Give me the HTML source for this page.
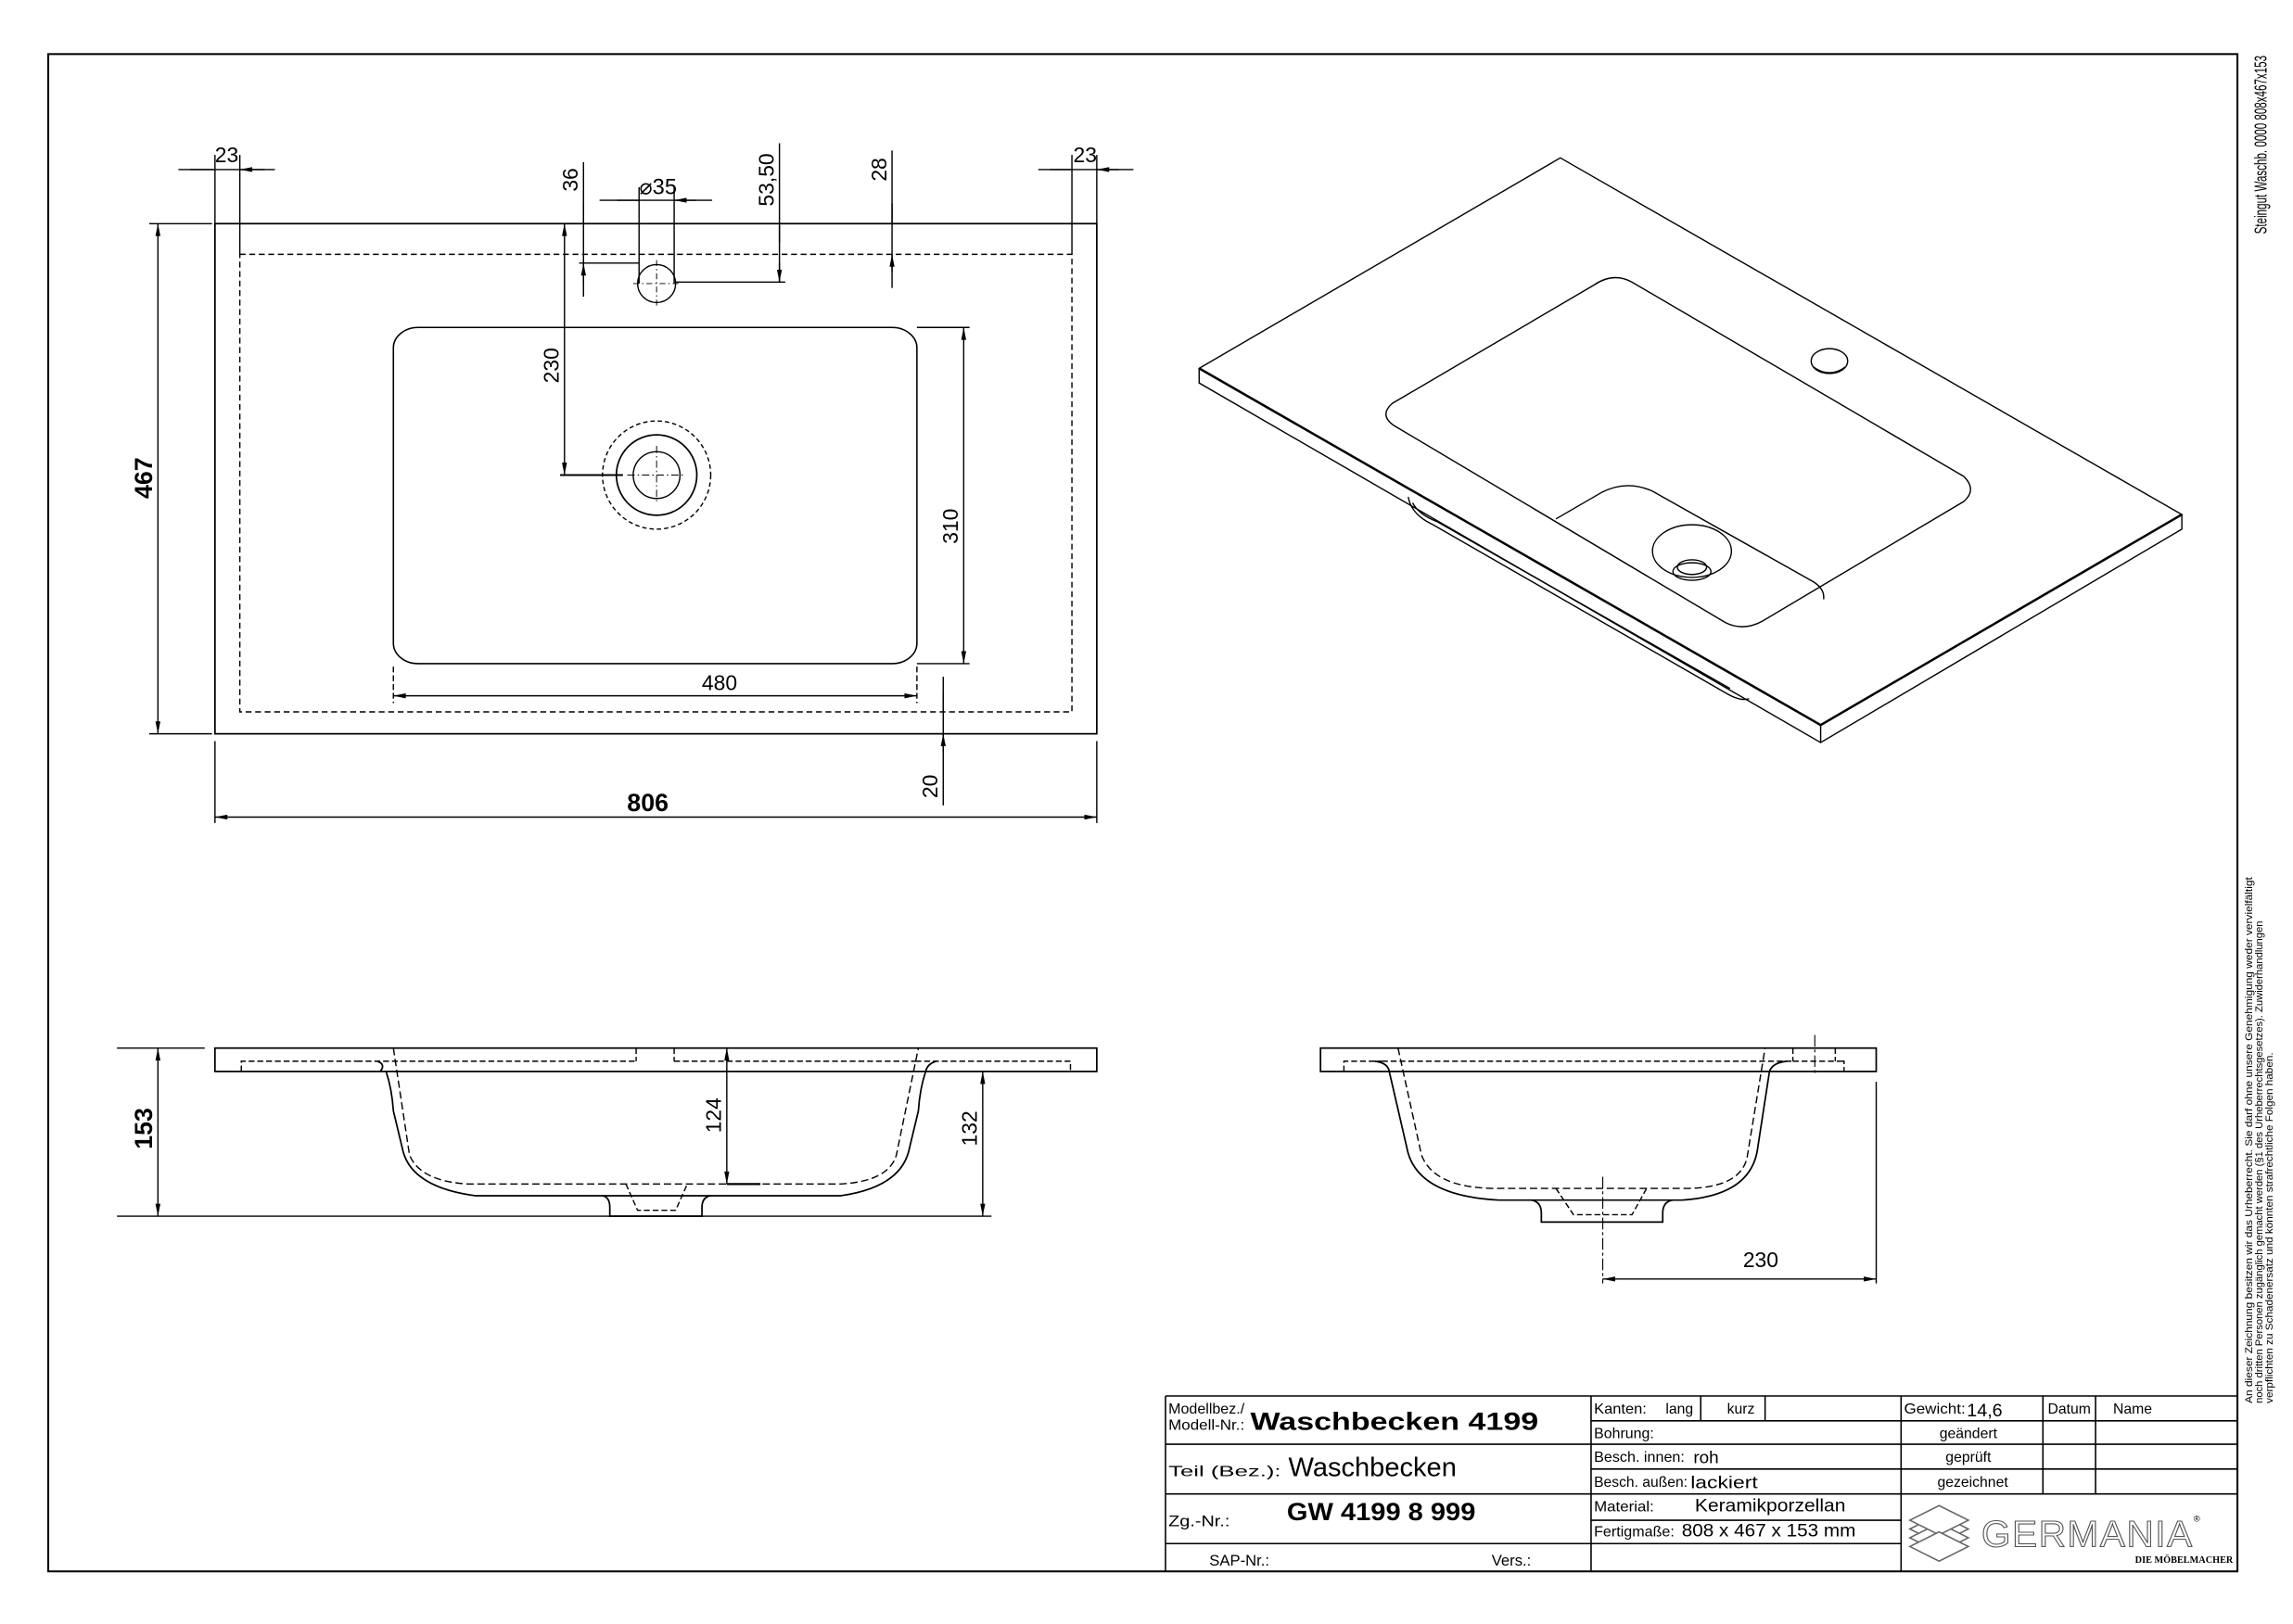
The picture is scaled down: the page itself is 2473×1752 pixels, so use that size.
<!DOCTYPE html>
<html><head><meta charset="utf-8"><style>
html,body{margin:0;padding:0;background:#fff;}
svg{display:block;}
text{font-family:"Liberation Sans",Arial,sans-serif;fill:#000;}
</style></head><body>
<svg width="2473" height="1752" viewBox="0 0 1568 1111" preserveAspectRatio="none" xmlns="http://www.w3.org/2000/svg">
<defs>
<marker id="a" viewBox="0 0 10 4" refX="10" refY="2" markerWidth="10" markerHeight="3.4" markerUnits="userSpaceOnUse" orient="auto-start-reverse"><path d="M0,0 L10,2 L0,4 z" fill="#000"/></marker>
</defs>
<rect x="0" y="0" width="1568" height="1111" fill="#fff"/>
<g fill="none" stroke="#000" stroke-width="0.9">
<rect x="33" y="37" width="1497" height="1038" stroke-width="1.3"/>

<!-- TOP VIEW -->
<rect x="147" y="153" width="603" height="349" stroke-width="1.1"/>
<rect x="164" y="174" width="569" height="313" stroke-dasharray="4,2.5"/>
<rect x="269" y="224" width="358" height="230" rx="17" ry="14" stroke-width="1"/>
<circle cx="449" cy="325" r="16"/>
<circle cx="449" cy="325" r="27.5" stroke-width="1.1"/>
<circle cx="449" cy="325" r="37" stroke-dasharray="3,2"/>
<path d="M449,305 V345 M429,325 H469" stroke-width="0.6" stroke-dasharray="5,2,1,2"/>
<circle cx="449" cy="194" r="13"/>
<path d="M449,178 V210 M433,194 H465" stroke-width="0.6" stroke-dasharray="4,2,1,2"/>

<path d="M147,106 V153 M164,106 V174 M122,116 H188"/>
<path d="M130,116 H147 M181,116 H164" marker-end="url(#a)"/>
<path d="M733,106 V174 M750,106 V153 M710,116 H775"/>
<path d="M718,116 H733 M765,116 H750" marker-end="url(#a)"/>
<path d="M437,128 V194 M461,128 V194 M410,137 H487"/>
<path d="M422,137 H437 M476,137 H461" marker-end="url(#a)"/>
<path d="M399,111 V203 M396,180 H437"/>
<path d="M399,139 V153 M399,194 V180" marker-end="url(#a)"/>
<path d="M533,98 V193 M462,193 H537"/>
<path d="M533,166 V153 M533,180 V193" marker-end="url(#a)"/>
<path d="M610,103 V197"/>
<path d="M610,139 V153 M610,186 V174" marker-end="url(#a)"/>
<path d="M102,153 H145 M102,502 H145"/>
<path d="M108,153 V502" marker-start="url(#a)" marker-end="url(#a)"/>
<path d="M383,325 H426" stroke-width="1.3"/>
<path d="M386,153 V325" marker-start="url(#a)" marker-end="url(#a)"/>
<path d="M627,224 H663 M627,454 H663"/>
<path d="M659,224 V454" marker-start="url(#a)" marker-end="url(#a)"/>
<path d="M269,456 V481 M627,456 V481" stroke-dasharray="4,2"/>
<path d="M269,476 H627" marker-start="url(#a)" marker-end="url(#a)"/>
<path d="M645,463 V551"/>
<path d="M645,474 V487 M645,515 V502" marker-end="url(#a)"/>
<path d="M147,507 V563 M750,507 V563"/>
<path d="M147,559 H750" marker-start="url(#a)" marker-end="url(#a)"/>

<!-- ISO VIEW -->
<path d="M1067,108 L1492,352 L1245,496 L820,252 Z"/>
<path d="M820,252 V262 L1245,508 L1492,362 V352 M1245,496 V508"/>
<path d="M820,252 L1245,496 L1492,352" stroke-width="1.6"/>
<path d="M963,340 Q965,352 980,359 L1180,474 Q1190,480 1196,478"/>
<path d="M966,344 Q970,352 983,357 L1183,471"/>
<path d="M1090,195 L952,276 Q943,284 953,291 L1180,426 Q1192,432 1205,425 L1343,343 Q1352,335 1343,326 L1116,193 Q1103,186 1090,195 Z"/>
<path d="M1064,355 L1095,337 Q1112,328 1130,336 L1240,398 Q1248,403 1247,410"/>
<ellipse cx="1157" cy="377" rx="27" ry="18"/>
<ellipse cx="1157" cy="391" rx="13" ry="6"/>
<ellipse cx="1157" cy="388" rx="10" ry="5"/>
<ellipse cx="1251" cy="247" rx="12.5" ry="8.5"/>
<path d="M1240,251 Q1251,259 1262,251"/>

<!-- SIDE VIEW 1 -->
<rect x="147" y="717" width="603" height="16" stroke-width="1.1"/>
<path d="M165,733 V726 H244 M626,726 H732 V733" stroke-dasharray="4,2"/>
<path d="M435,717 V726 M461,717 V726 M244,726 H435 M461,726 H626" stroke-dasharray="4,2"/>
<path d="M260,733 Q264,728 258,726 M264,733 Q268,745 269,760 L275,785 Q280,812 325,818 L575,818 Q617,812 622,785 L628,760 Q629,745 633,733 M640,726 Q634,728 633,733" stroke-width="1.1"/>
<path d="M269,717 L280,790 Q287,808 320,810 L575,810 Q608,808 613,790 L628,717" stroke-dasharray="5,2.5"/>
<path d="M412,818 Q417,819 417,826 V832 H480 V826 Q480,819 486,818" stroke-width="1.1"/>
<path d="M428,810 L436,828 H462 L470,810" stroke-dasharray="4,2"/>
<path d="M80,717 H140 M80,832 H678"/>
<path d="M108,717 V832" marker-start="url(#a)" marker-end="url(#a)"/>
<path d="M497,717 V810" marker-start="url(#a)" marker-end="url(#a)"/>
<path d="M497,810 H520" stroke-width="1.4"/>
<path d="M672,733 V832" marker-start="url(#a)" marker-end="url(#a)"/>

<!-- SIDE VIEW 2 -->
<rect x="903" y="717" width="380" height="16" stroke-width="1.1"/>
<path d="M919,733 V726 H945 M1259,726 H1261 V733" stroke-dasharray="4,2"/>
<path d="M945,726 H1226 M1226,717 V726 M1255,717 V726 M1226,726 H1259" stroke-dasharray="4,2"/>
<path d="M940,726 Q949,727 950,733 L962,785 Q968,818 1025,821 L1150,821 Q1198,818 1202,785 L1210,733 Q1212,727 1222,726" stroke-width="1.1"/>
<path d="M956,717 L972,790 Q980,812 1020,813 L1155,813 Q1192,812 1195,790 L1207,717" stroke-dasharray="5,2.5"/>
<path d="M1047,821 Q1054,822 1054,830 V836 H1137 V830 Q1137,822 1144,821" stroke-width="1.1"/>
<path d="M1064,813 L1076,831 H1116 L1126,813" stroke-dasharray="4,2"/>
<path d="M1241,708 V736 M1096,805 V878" stroke-width="0.7" stroke-dasharray="8,2,2,2"/>
<path d="M1283,740 V878"/>
<path d="M1096,875 H1283" marker-start="url(#a)" marker-end="url(#a)"/>

<!-- TITLE BLOCK -->
<g stroke-width="1">
<path d="M797,955 H1530 M797,955 V1075"/>
<path d="M797,988 H1088 M797,1022 H1088 M797,1056 H1088"/>
<path d="M1088,955 V1075 M1300,955 V1075"/>
<path d="M1088,972 H1530 M1088,988 H1530 M1088,1005 H1530 M1088,1022 H1530 M1088,1040 H1300 M1088,1056 H1300"/>
<path d="M1163,955 V972 M1207,955 V972 M1397,955 V1022 M1433,955 V1022"/>
</g>
<g stroke="#666" stroke-width="1">
<path d="M1306,1046 L1326,1036 L1346,1046 L1326,1056 Z"/>
<path d="M1306,1052 L1326,1042 L1346,1052 L1326,1062 Z" fill="#fff"/>
<path d="M1306,1040 L1326,1030 L1346,1040 L1326,1050 Z" fill="#fff"/>
<path d="M1306,1058 L1326,1048 L1346,1058 L1326,1068 Z" fill="#fff"/>
</g>
</g>

<!-- TEXT -->
<g font-size="14.5">
<text x="155" y="111" text-anchor="middle">23</text>
<text x="742" y="111" text-anchor="middle">23</text>
<text x="450" y="133" text-anchor="middle" font-size="15">⌀35</text>
<text transform="rotate(-90 395 123)" x="395" y="123" text-anchor="middle">36</text>
<text transform="rotate(-90 529 123)" x="529" y="123" text-anchor="middle">53,50</text>
<text transform="rotate(-90 606 116)" x="606" y="116" text-anchor="middle">28</text>
<text transform="rotate(-90 382 250)" x="382" y="250" text-anchor="middle">230</text>
<text transform="rotate(-90 655 360)" x="655" y="360" text-anchor="middle">310</text>
<text x="492" y="472" text-anchor="middle">480</text>
<text transform="rotate(-90 641 538)" x="641" y="538" text-anchor="middle">20</text>
<text transform="rotate(-90 493 763)" x="493" y="763" text-anchor="middle">124</text>
<text transform="rotate(-90 668 772)" x="668" y="772" text-anchor="middle">132</text>
<text x="1204" y="867" text-anchor="middle">230</text>
</g>
<g font-size="17" font-weight="bold">
<text transform="rotate(-90 104 327)" x="104" y="327" text-anchor="middle">467</text>
<text x="443" y="555" text-anchor="middle">806</text>
<text transform="rotate(-90 104 772)" x="104" y="772" text-anchor="middle">153</text>
</g>

<text transform="rotate(-90 1550 160)" x="1550" y="160" font-size="11.5" textLength="122" lengthAdjust="spacingAndGlyphs">Steingut Waschb. 0000 808x467x153</text>
<g font-size="6.8">
<text transform="rotate(-90 1540 960)" x="1540" y="960" textLength="360" lengthAdjust="spacingAndGlyphs">An dieser Zeichnung besitzen wir das Urheberrecht. Sie darf ohne unsere Genehmigung weder vervielfältigt</text>
<text transform="rotate(-90 1547 960)" x="1547" y="960" textLength="330" lengthAdjust="spacingAndGlyphs">noch dritten Personen zugänglich gemacht werden (§1 des Urheberrechtsgesetzes). Zuwiderhandlungen</text>
<text transform="rotate(-90 1554 960)" x="1554" y="960" textLength="240" lengthAdjust="spacingAndGlyphs">verpflichten zu Schadenersatz und könnten strafrechtliche Folgen haben.</text>
</g>

<g>
<text x="799" y="967" font-size="10" textLength="52" lengthAdjust="spacingAndGlyphs">Modellbez./</text>
<text x="799" y="978" font-size="10" textLength="52" lengthAdjust="spacingAndGlyphs">Modell-Nr.:</text>
<text x="855" y="978" font-size="17" font-weight="bold" textLength="197" lengthAdjust="spacingAndGlyphs">Waschbecken 4199</text>
<text x="799" y="1010" font-size="10" textLength="77" lengthAdjust="spacingAndGlyphs">Teil (Bez.):</text>
<text x="881" y="1010" font-size="18" textLength="115" lengthAdjust="spacingAndGlyphs">Waschbecken</text>
<text x="799" y="1044" font-size="10.5" textLength="42" lengthAdjust="spacingAndGlyphs">Zg.-Nr.:</text>
<text x="880" y="1040" font-size="17" font-weight="bold" textLength="129" lengthAdjust="spacingAndGlyphs">GW 4199 8 999</text>
<text x="827" y="1071" font-size="10.5" textLength="41" lengthAdjust="spacingAndGlyphs">SAP-Nr.:</text>
<text x="1020" y="1071" font-size="10.5" textLength="27" lengthAdjust="spacingAndGlyphs">Vers.:</text>

<text x="1090" y="967" font-size="10" textLength="36" lengthAdjust="spacingAndGlyphs">Kanten:</text>
<text x="1139" y="967" font-size="10">lang</text>
<text x="1181" y="967" font-size="10">kurz</text>
<text x="1090" y="984" font-size="10" textLength="41" lengthAdjust="spacingAndGlyphs">Bohrung:</text>
<text x="1090" y="1000" font-size="10" textLength="62" lengthAdjust="spacingAndGlyphs">Besch. innen:</text>
<text x="1158" y="1001" font-size="12">roh</text>
<text x="1090" y="1017" font-size="10" textLength="64" lengthAdjust="spacingAndGlyphs">Besch. außen:</text>
<text x="1156" y="1018" font-size="12" textLength="46" lengthAdjust="spacingAndGlyphs">lackiert</text>
<text x="1090" y="1034" font-size="10" textLength="41" lengthAdjust="spacingAndGlyphs">Material:</text>
<text x="1159" y="1034" font-size="12.5" textLength="103" lengthAdjust="spacingAndGlyphs">Keramikporzellan</text>
<text x="1090" y="1051" font-size="10" textLength="55" lengthAdjust="spacingAndGlyphs">Fertigmaße:</text>
<text x="1150" y="1051" font-size="12.5" textLength="119" lengthAdjust="spacingAndGlyphs">808 x 467 x 153 mm</text>

<text x="1302" y="967" font-size="10" textLength="42" lengthAdjust="spacingAndGlyphs">Gewicht:</text>
<text x="1345" y="969" font-size="12.5">14,6</text>
<text x="1415" y="967" font-size="10" text-anchor="middle">Datum</text>
<text x="1445" y="967" font-size="10">Name</text>
<text x="1346" y="984" font-size="10" text-anchor="middle">geändert</text>
<text x="1346" y="1000" font-size="10" text-anchor="middle">geprüft</text>
<text x="1349" y="1017" font-size="10" text-anchor="middle">gezeichnet</text>
</g>
<text x="1355" y="1058" font-size="25" stroke="#555" stroke-width="0.7" style="fill:none" letter-spacing="1" textLength="145" lengthAdjust="spacingAndGlyphs">GERMANIA</text>
<text x="1500" y="1041" font-size="6" fill="#555">®</text>
<text x="1527" y="1069" font-size="6.5" font-weight="bold" text-anchor="end" style="font-family:'Liberation Serif',serif">DIE MÖBELMACHER</text>
</svg>
</body></html>
